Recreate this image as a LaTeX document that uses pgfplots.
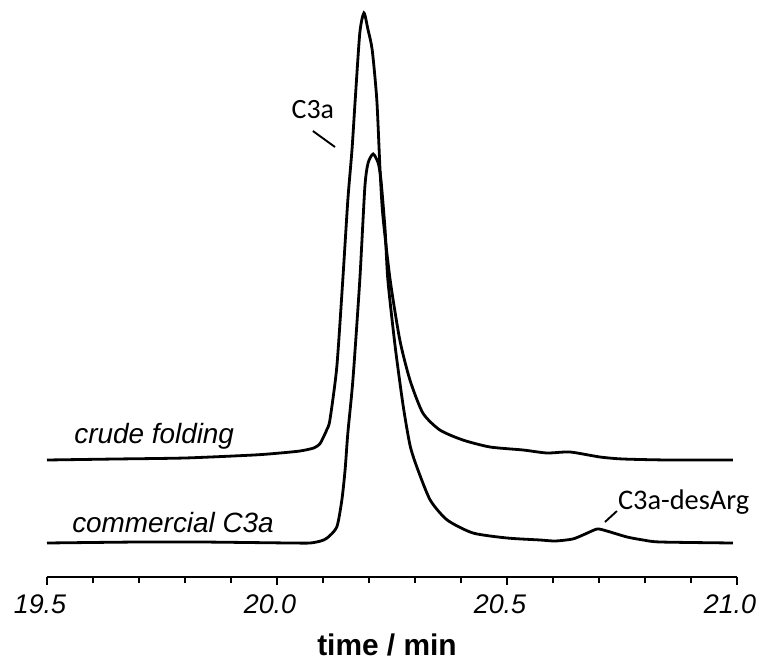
\documentclass[border=0pt]{standalone}
\usepackage{fontspec}
\setmainfont{Liberation Sans}
\newfontfamily\calib{Carlito}
\usepackage{pgfplots}
\pgfplotsset{compat=1.18}
\begin{document}
\begin{tikzpicture}
\path[use as bounding box] (-47bp,-86bp) rectangle (714bp,577bp);
\begin{axis}[
  at={(0,0)}, anchor=origin,
  scale only axis,
  width=690bp, height=572bp,
  xmin=19.5, xmax=21.0, ymin=0, ymax=572,
  axis y line=none,
  axis x line=bottom,
  axis line style={-, line width=2.6bp},
  xtick={19.5,20.0,20.5,21.0},
  minor x tick num=4,
  tick align=outside,
  major tick length=8bp,
  minor tick length=6bp,
  every tick/.style={line width=2.4bp, black},
  /pgf/number format/assume math mode=true,
  /pgf/number format/.cd, fixed, fixed zerofill, precision=1, /pgfplots/.cd,
  xticklabel style={font=\itshape\fontsize{27}{30}\selectfont, yshift=-6bp, xshift=-7bp},
  xlabel={time / min},
  xlabel style={font=\bfseries\fontsize{30}{34}\selectfont, at={(axis description cs:0.5,0)}, anchor=center, yshift=-68bp, xshift=-5bp},
  clip=false,
]
\addplot[black, line width=2.8bp, smooth, tension=0.4] coordinates {
(19.500,117) (19.650,118) (19.800,119) (19.950,122) (20.007,124) (20.050,126)
(20.080,129) (20.093,133) (20.100,139) (20.108,147) (20.115,157) (20.130,210)
(20.143,297) (20.154,377) (20.163,427) (20.170,477) (20.180,544) (20.189,564)
(20.198,547) (20.207,527) (20.217,477) (20.224,407) (20.230,362) (20.246,297)
(20.267,237) (20.289,197) (20.317,164) (20.354,147) (20.404,137) (20.463,130)
(20.535,127) (20.587,124) (20.637,125) (20.702,120) (20.752,118) (20.850,117)
(20.991,117)
};
\addplot[black, line width=2.8bp, smooth, tension=0.4] coordinates {
(19.500,34) (19.700,35) (19.833,35) (20.028,34) (20.072,34) (20.095,36)
(20.109,39) (20.130,50) (20.141,77) (20.148,107) (20.154,144) (20.165,197)
(20.180,297) (20.191,390) (20.198,414) (20.209,423) (20.220,414) (20.226,397)
(20.235,347) (20.241,297) (20.257,230) (20.274,172) (20.289,132) (20.304,110)
(20.333,77) (20.370,57) (20.426,44) (20.500,39) (20.572,37) (20.605,36)
(20.643,38) (20.670,43) (20.696,48) (20.717,46) (20.761,40) (20.796,37)
(20.833,35) (20.991,34)
};
\node[font=\itshape\fontsize{28}{32}\selectfont] at (axis cs:19.733,141) {crude folding};
\node[font=\itshape\fontsize{28}{32}\selectfont] at (axis cs:19.774,54) {commercial C3a};
\node[font=\calib\fontsize{28}{31}\selectfont] at (axis cs:20.078,467) {C3a};
\draw[line width=1.9bp] (axis cs:20.078,446) -- (axis cs:20.126,430);
\node[font=\calib\fontsize{28.5}{31}\selectfont] at (axis cs:20.884,75) {C3a-desArg};
\draw[line width=1.9bp] (axis cs:20.739,66) -- (axis cs:20.713,55);
\end{axis}
\end{tikzpicture}
\end{document}
